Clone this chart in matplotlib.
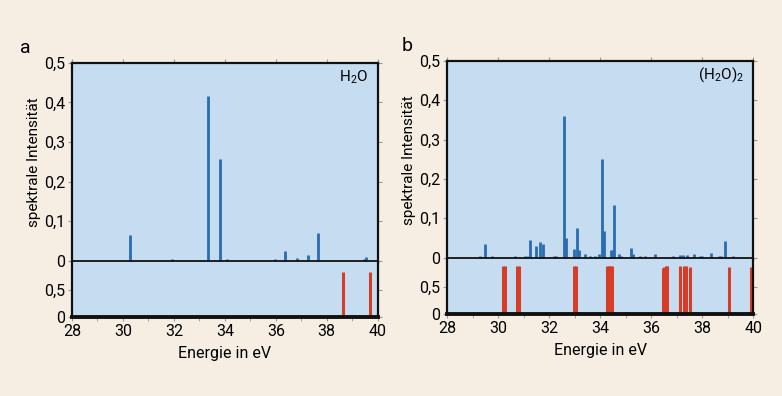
import matplotlib.pyplot as plt
from matplotlib.ticker import FuncFormatter

plt.rcParams['font.family'] = ['Roboto', 'DejaVu Sans']
plt.rcParams['mathtext.fontset'] = 'custom'
plt.rcParams['mathtext.rm'] = 'Roboto'
plt.rcParams['mathtext.it'] = 'Roboto'

# Panel a: H2O
a_blue_e = [30.28, 31.92, 33.35, 33.8, 34.08, 35.98, 36.35, 36.82, 37.28, 37.65, 39.45, 39.55]
a_blue_i = [0.065, 0.004, 0.417, 0.256, 0.004, 0.004, 0.025, 0.007, 0.013, 0.07, 0.005, 0.01]
a_red_e = [38.64, 39.71]
a_red_i = [0.82, 0.82]

# Panel b: (H2O)2
b_blue_e = [29.3, 29.49, 29.75, 30.67, 31.05, 31.15, 31.25, 31.48, 31.65, 31.75, 32.2, 32.26,
            32.58, 32.67, 32.96, 33.08, 33.18, 33.39, 33.6, 33.8, 33.96, 34.09, 34.16, 34.43,
            34.5, 34.56, 34.72, 34.8, 35.2, 35.3, 35.55, 35.75, 36.16, 36.85, 37.15, 37.25,
            37.4, 37.7, 37.9, 38.0, 38.34, 38.65, 38.75, 38.9, 39.22]
b_blue_i = [0.003, 0.035, 0.003, 0.003, 0.003, 0.003, 0.046, 0.029, 0.04, 0.034, 0.003, 0.005,
            0.36, 0.05, 0.021, 0.075, 0.02, 0.01, 0.003, 0.003, 0.01, 0.25, 0.067, 0.02,
            0.02, 0.135, 0.01, 0.005, 0.024, 0.01, 0.003, 0.003, 0.01, 0.003, 0.006, 0.008,
            0.006, 0.01, 0.004, 0.003, 0.013, 0.005, 0.005, 0.042, 0.003]
b_red_e = [30.18, 30.26, 30.72, 30.82, 32.96, 33.04, 34.28, 34.34, 34.4, 34.46,
           36.46, 36.52, 36.58, 36.62, 37.12, 37.3, 37.37, 37.52, 39.05, 39.9]
b_red_i = [0.88, 0.88, 0.88, 0.88, 0.88, 0.88, 0.88, 0.88, 0.88, 0.88,
           0.84, 0.86, 0.88, 0.88, 0.88, 0.88, 0.88, 0.85, 0.85, 0.85]

upper_ticks = [0, 0.1, 0.2, 0.3, 0.4, 0.5]
lower_ticks = [0, 0.5]
x_ticks = [28, 30, 32, 34, 36, 38, 40]

bg = '#f6eee2'
face = '#c6ddf1'
blue = '#2a6cb0'
red = '#d63d28'

comma = FuncFormatter(lambda v, p: ('%g' % v).replace('.', ','))

fig = plt.figure(figsize=(7.82, 3.96), dpi=100, facecolor=bg)


def panel(left, right, top, bottom, be, bi, re, ri, label, tag, tagx, tagy):
    fig.text(tagx, tagy, tag, fontsize=14)
    gs = fig.add_gridspec(2, 1, left=left, right=right, top=top, bottom=bottom,
                          height_ratios=[199, 55], hspace=0)
    up = fig.add_subplot(gs[0])
    lo = fig.add_subplot(gs[1], sharex=up)
    for ax in (up, lo):
        ax.set_facecolor(face)
        for s in ax.spines.values():
            s.set_linewidth(1.6)
            s.set_color('#111111')
        ax.tick_params(direction='out', length=3, color='#999999', labelsize=11.5,
                       top=False, right=True, pad=2)
        ax.set_xlim(28, 40)
    up.spines['bottom'].set_visible(False)
    lo.spines['top'].set_visible(False)
    lo.spines['bottom'].set_linewidth(2.8)
    up.tick_params(axis='x', top=True, bottom=False, labelbottom=False)
    up.vlines(be, 0, bi, color=blue, lw=2)
    up.axhline(0, color='#111111', lw=1.3)
    up.set_ylim(-0.004, 0.5)
    up.set_yticks(upper_ticks)
    up.yaxis.set_major_formatter(comma)
    up.set_ylabel('spektrale Intensität', fontsize=11, labelpad=2)
    up.text(0.97, 0.93, label, transform=up.transAxes, ha='right', va='center', fontsize=11)
    lo.vlines(re, 0, ri, color=red, lw=2.2)
    lo.set_ylim(0, 1.0)
    lo.set_yticks(lower_ticks)
    lo.yaxis.set_major_formatter(comma)
    lo.set_xticks(x_ticks)
    lo.set_xticks(range(28, 41), minor=True)
    lo.tick_params(axis='x', which='minor', length=3, color='#999999')
    lo.set_xlabel('Energie in eV', fontsize=11.5, labelpad=5)


panel(0.092, 0.483, 0.841, 0.199, a_blue_e, a_blue_i, a_red_e, a_red_i,
      'H$_2$O', 'a', 0.025, 0.865)
panel(0.572, 0.963, 0.846, 0.207, b_blue_e, b_blue_i, b_red_e, b_red_i,
      '(H$_2$O)$_2$', 'b', 0.513, 0.872)

fig.savefig('out.png', dpi=100, facecolor=bg)
